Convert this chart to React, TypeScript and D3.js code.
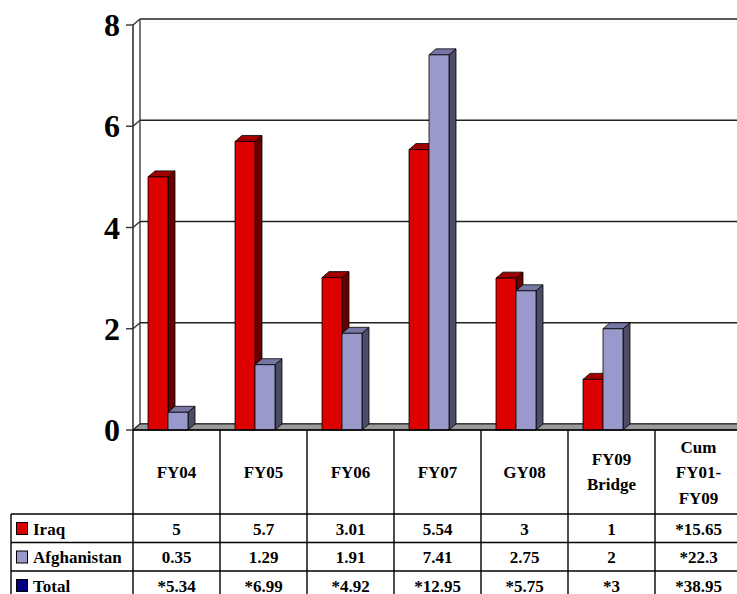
import React from "react";
import * as d3 from "d3";

const columns = ["FY04", "FY05", "FY06", "FY07", "GY08", "FY09 Bridge", "Cum FY01- FY09"];
const barCategories = ["FY04", "FY05", "FY06", "FY07", "GY08", "FY09 Bridge"];
const iraq = [5, 5.7, 3.01, 5.54, 3, 1];
const afghanistan = [0.35, 1.29, 1.91, 7.41, 2.75, 2];
const iraqRow = ["5", "5.7", "3.01", "5.54", "3", "1", "*15.65"];
const afghanistanRow = ["0.35", "1.29", "1.91", "7.41", "2.75", "2", "*22.3"];
const totalRow = ["*5.34", "*6.99", "*4.92", "*12.95", "*5.75", "*3", "*38.95"];
const yTicks = [0, 2, 4, 6, 8];
const seriesNames = ["Iraq", "Afghanistan", "Total"];

const W = 737;
const H = 594;
const DX = 7;
const DY = 6;
const FONT = "'Liberation Serif', 'Times New Roman', serif";

const seriesColors = [
  { front: "#dd0000", top: "#a00000", side: "#660000" },
  { front: "#9999cc", top: "#7777a3", side: "#4c4c66" },
];
const legendSwatch = ["#dd0000", "#9999cc", "#000080"];

export default function App() {
  const y = d3.scaleLinear().domain([0, 8]).range([430, 25]);
  const xCol = d3.scaleBand().domain(columns).range([133, 742]).padding(0);
  const barW = 20;
  const y0 = y(0);
  const rowYs = [514, 542.5, 571, 600];

  const bar = (cx: number, v: number, c: typeof seriesColors[0], key: string) => {
    const x = cx;
    const top = y(v);
    const w = barW;
    return (
      <g key={key} stroke="#000" strokeWidth={0.8} strokeLinejoin="round">
        <polygon
          points={`${x + w},${top} ${x + w + DX},${top - DY} ${x + w + DX},${y0 - DY} ${x + w},${y0}`}
          fill={c.side}
        />
        <polygon
          points={`${x},${top} ${x + DX},${top - DY} ${x + w + DX},${top - DY} ${x + w},${top}`}
          fill={c.top}
        />
        <rect x={x} y={top} width={w} height={y0 - top} fill={c.front} />
      </g>
    );
  };

  const header = (label: string) => {
    const cx = (xCol(label) as number) + xCol.bandwidth() / 2;
    const lines =
      label === "FY09 Bridge" ? ["FY09", "Bridge"] : label.startsWith("Cum") ? ["Cum", "FY01-", "FY09"] : [label];
    const centers =
      lines.length === 1 ? [472] : lines.length === 2 ? [459, 484] : [447, 472, 498];
    return lines.map((t, i) => (
      <text
        key={label + i}
        x={cx}
        y={centers[i] + 6}
        textAnchor="middle"
        fontFamily={FONT}
        fontWeight="bold"
        fontSize={17}
        fill="#000"
      >
        {t}
      </text>
    ));
  };

  const rows = [iraqRow, afghanistanRow, totalRow];

  return (
    <svg
      width={W}
      height={H}
      style={{ position: "absolute", left: 0, top: 0, background: "#fff" }}
    >
      {/* back wall gridlines */}
      {yTicks.map((t) => (
        <line key={"g" + t} x1={133 + DX} x2={W} y1={y(t) - DY} y2={y(t) - DY} stroke="#222" strokeWidth={1.3} />
      ))}
      <line x1={133 + DX} x2={133 + DX} y1={y(8) - DY} y2={y(0) - DY} stroke="#333" strokeWidth={1.3} />
      {/* floor */}
      <polygon
        points={`133,${y0} ${133 + DX},${y0 - DY} ${W + 10},${y0 - DY} ${W + 10},${y0}`}
        fill="#9a9a9a"
        stroke="#222"
        strokeWidth={1}
      />
      {/* front axis */}
      <line x1={133} x2={133} y1={y(8)} y2={y0} stroke="#333" strokeWidth={1.6} />
      {yTicks.map((t) => (
        <g key={"t" + t} stroke="#333" strokeWidth={1.4} fill="none">
          <line x1={126} x2={133} y1={y(t)} y2={y(t)} />
          <line x1={133} x2={133 + DX} y1={y(t)} y2={y(t) - DY} />
        </g>
      ))}
      {yTicks.map((t) => (
        <text
          key={"l" + t}
          x={120}
          y={y(t) + 11}
          textAnchor="end"
          fontFamily={FONT}
          fontWeight="bold"
          fontSize={32}
          fill="#000"
        >
          {t}
        </text>
      ))}
      {/* bars */}
      {barCategories.map((c, i) => {
        const center = (xCol(c) as number) + xCol.bandwidth() / 2 - 8.5;
        return (
          <g key={c}>
            {bar(center - barW, iraq[i], seriesColors[0], c + "-iraq")}
            {bar(center, afghanistan[i], seriesColors[1], c + "-afg")}
          </g>
        );
      })}
      {/* table */}
      <g stroke="#000" strokeWidth={1.4}>
        <line x1={133} x2={W + 10} y1={y0} y2={y0} />
        {rowYs.map((ry) => (
          <line key={"r" + ry} x1={11} x2={W + 10} y1={ry} y2={ry} />
        ))}
        <line x1={11} x2={11} y1={rowYs[0]} y2={H} />
        {columns.map((c) => (
          <line key={"c" + c} x1={xCol(c) as number} x2={xCol(c) as number} y1={y0} y2={H} />
        ))}
      </g>
      {columns.map((c) => header(c))}
      {rows.map((row, ri) =>
        row.map((v, ci) => (
          <text
            key={"v" + ri + "-" + ci}
            x={(xCol(columns[ci]) as number) + xCol.bandwidth() / 2}
            y={rowYs[ri] + 14.5 + 6}
            textAnchor="middle"
            fontFamily={FONT}
            fontWeight="bold"
            fontSize={17}
            fill="#000"
          >
            {v}
          </text>
        ))
      )}
      {seriesNames.map((s, i) => (
        <g key={"leg" + s}>
          <rect
            x={16.5}
            y={rowYs[i] + 8.5}
            width={11}
            height={12}
            fill={legendSwatch[i]}
            stroke="#000"
            strokeWidth={1}
          />
          <text
            x={33}
            y={rowYs[i] + 14.5 + 6}
            fontFamily={FONT}
            fontWeight="bold"
            fontSize={17}
            fill="#000"
          >
            {s}
          </text>
        </g>
      ))}
    </svg>
  );
}
